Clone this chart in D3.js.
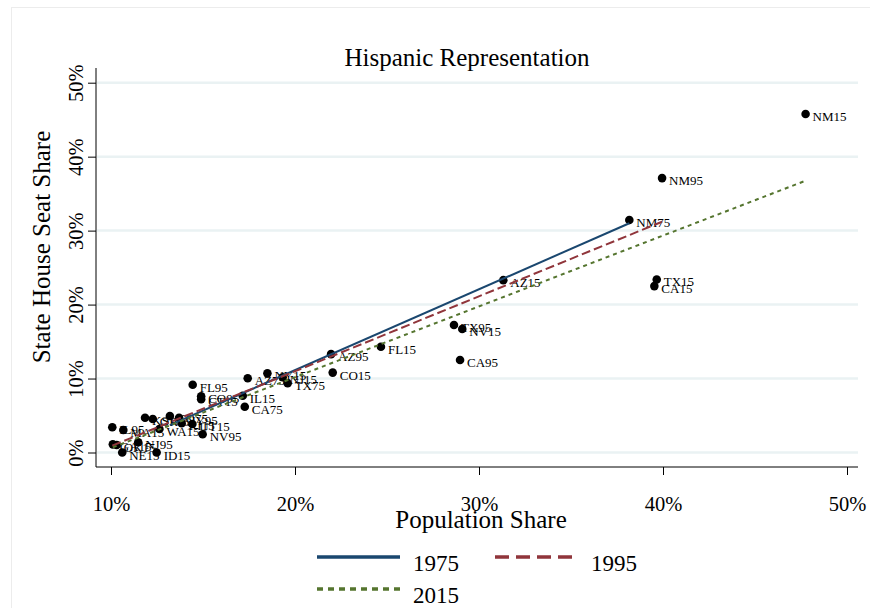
<!DOCTYPE html>
<html>
<head>
<meta charset="utf-8">
<script src="https://cdn.jsdelivr.net/npm/d3@7"></script>
<style>
  body { margin: 0; background: #ffffff; }
  text { font-family: 'Liberation Serif', 'DejaVu Serif', serif; fill: #000; }
</style>
</head>
<body>
<div class="chart"></div>
<script>
// Hispanic share of population vs share of state house seats, by state and year
// values (percent)

// 1975
const labels75 = ["NM75", "TX75", "AZ75", "CA75", "CO75"];
const pop75 = [38.17, 19.6, 17.43, 17.27, 13.2];
const seat75 = [31.44, 9.36, 10.03, 6.19, 4.93];

// 1995
const labels95 = ["NM95", "CA95", "TX95", "AZ95", "FL95", "CO95", "NV95", "NY95", "NJ95", "IL95"];
const pop95 = [39.95, 28.97, 28.64, 21.96, 14.44, 14.9, 14.98, 13.7, 11.48, 10.07];
const seat95 = [37.1, 12.5, 17.24, 13.3, 9.17, 7.6, 2.46, 4.7, 1.38, 3.41];

// 2015
const labels15 = ["NM15", "TX15", "CA15", "AZ15", "NV15", "FL15", "CO15", "NJ15", "NY15", "IL15",
                  "CT15", "UT15", "RI15", "WA15", "OR15", "KS15", "MA15", "ID15", "NE15", "OK15", "GA15"];
const pop15 = [47.75, 39.66, 39.53, 31.32, 29.09, 24.67, 22.05, 19.33, 18.5, 17.16,
               14.9, 14.42, 13.84, 12.63, 12.27, 11.85, 10.67, 12.48, 10.61, 10.31, 10.1];
const seat15 = [45.77, 23.4, 22.5, 23.3, 16.7, 14.3, 10.8, 10.17, 10.7, 7.68,
                7.2, 3.85, 3.95, 3.17, 4.53, 4.7, 3.04, 0, 0, 1.01, 1.1];

// fitted lines (end points)
const fit75 = [[13.2, 3.7], [38.17, 31.0]];
const fit95 = [[10.07, 0.92], [39.95, 31.2]];
const fit15 = [[10.1, 0.7], [47.75, 36.75]];

// axis ticks
const xTicks = [10, 20, 30, 40, 50];
const yTicks = [0, 10, 20, 30, 40, 50];

// plot size
const width = 870;
const height = 608;
const plot = {left: 96, right: 858, top: 68, bottom: 467};

const xScale = d3.scaleLinear()
    .domain([10, 50])
    .range([111, 847]);

const yScale = d3.scaleLinear()
    .domain([0, 50])
    .range([452.5, 82.7]);

const svg = d3.select('.chart')
    .append('svg')
    .attr('width', width)
    .attr('height', height);

// light frame round the graph region
svg.append('rect')
    .attr('x', 11.5)
    .attr('y', 7.5)
    .attr('width', width)
    .attr('height', height)
    .attr('fill', 'none')
    .attr('stroke', '#ececec');

// gridlines
svg.selectAll('.grid')
    .data(yTicks)
    .enter()
    .append('line')
    .attr('class', 'grid')
    .attr('x1', plot.left + 1)
    .attr('x2', plot.right)
    .attr('y1', d => yScale(d))
    .attr('y2', d => yScale(d))
    .attr('stroke', '#eaf2f3')
    .attr('stroke-width', 2.5);

// axes
const xAxis = d3.axisBottom(xScale)
    .tickValues(xTicks)
    .tickSize(8)
    .tickFormat(d => d + '%');

const yAxis = d3.axisLeft(yScale)
    .tickValues(yTicks)
    .tickSize(8)
    .tickFormat(d => d + '%');

const gx = svg.append('g')
    .attr('transform', `translate(0,${plot.bottom})`)
    .call(xAxis);
gx.select('.domain').attr('d', `M${plot.left},0H${plot.right}`);
gx.selectAll('.tick text')
    .attr('y', 29)
    .attr('font-size', 20.5)
    .attr('font-family', 'Liberation Serif');

const gy = svg.append('g')
    .attr('transform', `translate(${plot.left},0)`)
    .call(yAxis);
gy.select('.domain').attr('d', `M0,${plot.top}V${plot.bottom}`);
gy.selectAll('.tick text')
    .attr('x', 0)
    .attr('y', 0)
    .attr('dy', null)
    .attr('transform', 'translate(-20,0) rotate(-90)')
    .style('text-anchor', 'middle')
    .attr('dominant-baseline', 'central')
    .attr('font-size', 20.5)
    .attr('font-family', 'Liberation Serif');

gx.selectAll('line, path').attr('stroke', '#000');
gy.selectAll('line, path').attr('stroke', '#000');

// points and labels
function drawYear(labels, xs, ys, cls) {
    const rows = labels.map((l, i) => ({label: l, x: xs[i], y: ys[i]}));

    svg.selectAll('.dot_' + cls)
        .data(rows)
        .enter()
        .append('circle')
        .attr('class', 'dot_' + cls)
        .attr('cx', d => xScale(d.x))
        .attr('cy', d => yScale(d.y))
        .attr('r', 4.3)
        .attr('fill', '#000');

    svg.selectAll('.lab_' + cls)
        .data(rows)
        .enter()
        .append('text')
        .attr('class', 'lab_' + cls)
        .attr('x', d => xScale(d.x) + 7)
        .attr('y', d => yScale(d.y) + 7)
        .attr('font-size', 13)
        .text(d => d.label);
}

drawYear(labels75, pop75, seat75, 'y75');
drawYear(labels95, pop95, seat95, 'y95');
drawYear(labels15, pop15, seat15, 'y15');

// fitted lines on top
const line = d3.line()
    .x(d => xScale(d[0]))
    .y(d => yScale(d[1]));

svg.append('path')
    .attr('d', line(fit75))
    .attr('fill', 'none')
    .attr('stroke', '#1a476f')
    .attr('stroke-width', 2);

svg.append('path')
    .attr('d', line(fit95))
    .attr('fill', 'none')
    .attr('stroke', '#90353b')
    .attr('stroke-width', 2)
    .attr('stroke-dasharray', '9,4');

svg.append('path')
    .attr('d', line(fit15))
    .attr('fill', 'none')
    .attr('stroke', '#55752f')
    .attr('stroke-width', 2)
    .attr('stroke-dasharray', '4,4');

// titles
svg.append('text')
    .attr('x', 467)
    .attr('y', 66)
    .style('text-anchor', 'middle')
    .attr('font-size', 25)
    .text('Hispanic Representation');

svg.append('text')
    .attr('x', 481)
    .attr('y', 528)
    .style('text-anchor', 'middle')
    .attr('font-size', 25)
    .text('Population Share');

svg.append('text')
    .attr('transform', 'translate(41,247) rotate(-90)')
    .style('text-anchor', 'middle')
    .attr('dominant-baseline', 'central')
    .attr('font-size', 25)
    .text('State House Seat Share');

// legend
const legendItems = [
    {name: '1975', color: '#1a476f', dash: null, x: 317, y: 557},
    {name: '1995', color: '#90353b', dash: '14,7', x: 495, y: 557},
    {name: '2015', color: '#55752f', dash: '6,5', x: 317, y: 589}
];

legendItems.forEach(function(d) {
    svg.append('line')
        .attr('x1', d.x)
        .attr('x2', d.x + 83)
        .attr('y1', d.y)
        .attr('y2', d.y)
        .attr('stroke', d.color)
        .attr('stroke-width', 3.3)
        .attr('stroke-dasharray', d.dash);

    svg.append('text')
        .attr('x', d.x + 96)
        .attr('y', d.y + 14)
        .attr('font-size', 23)
        .text(d.name);
});
</script>
</body>
</html>
